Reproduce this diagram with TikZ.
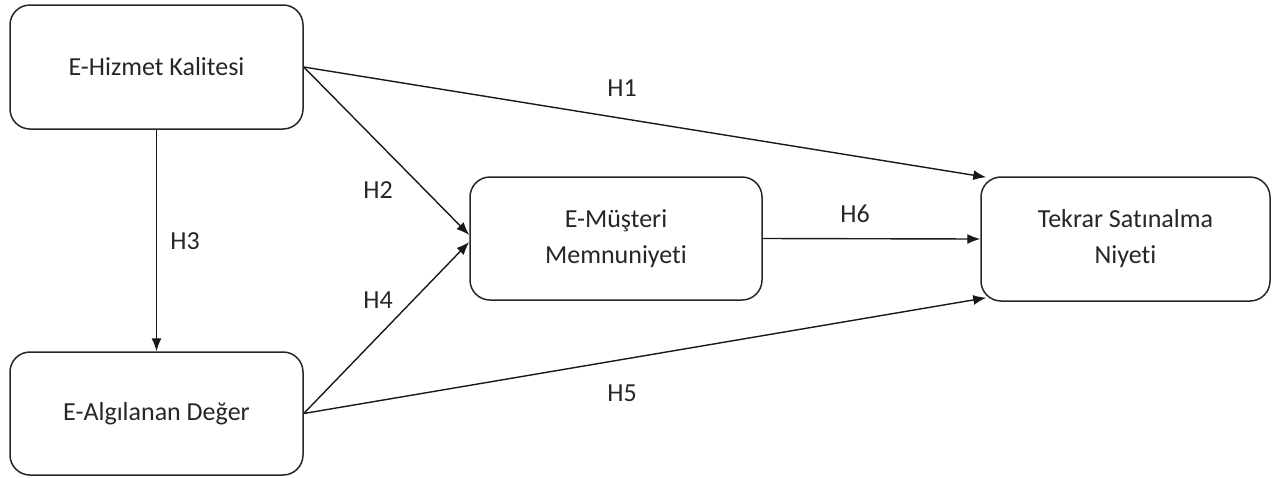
\documentclass[tikz,border=0pt]{standalone}
\usepackage{fontspec}
\setmainfont{Carlito}[RawFeature=-liga]
\usetikzlibrary{arrows.meta}
\begin{document}
\begin{tikzpicture}[x=1pt,y=-1pt,
  box/.style={draw=black!85,line width=1.5pt,rounded corners=20pt,align=center,
    font=\fontsize{26}{36}\selectfont,text=black!85,inner sep=0pt},
  lbl/.style={font=\fontsize{26}{30}\selectfont,text=black!85,inner sep=0pt},
  arr/.style={draw=black!90,line width=1.4pt,-{Latex[length=13pt,width=10pt]}}]
\useasboundingbox (0,0) rectangle (1273,477);
\node[box,minimum width=293pt,minimum height=124pt] (b1) at (156.5,67) {E-Hizmet Kalitesi};
\node[box,minimum width=293pt,minimum height=123pt] (b2) at (156.5,413.5) {E-Algılanan Değer};
\node[box,minimum width=292pt,minimum height=123pt] (b3) at (616,238.5) {E-Müşteri\\Memnuniyeti};
\node[box,minimum width=289pt,minimum height=124pt] (b4) at (1125.5,239) {Tekrar Satınalma\\Niyeti};
\draw[arr] (b1.east) -- ([shift={(6pt,-1pt)}]b4.north west);
\draw[arr] (b1.east) -- ([yshift=3.5pt]b3.west);
\draw[arr] (b1.south) -- (b2.north);
\draw[arr] (b2.east) -- ([yshift=-3.5pt]b3.west);
\draw[arr] (b2.east) -- ([shift={(6pt,4pt)}]b4.south west);
\draw[arr] (b3.east) -- (b4.west);
\node[lbl] (h1) at (622,88) {H1};
\node[lbl] (h2) at (378,190) {H2};
\node[lbl] (h3) at (185,241) {H3};
\node[lbl] (h4) at (378,300) {H4};
\node[lbl] (h5) at (622,393) {H5};
\node[lbl] (h6) at (855,214) {H6};
\end{tikzpicture}
\end{document}
